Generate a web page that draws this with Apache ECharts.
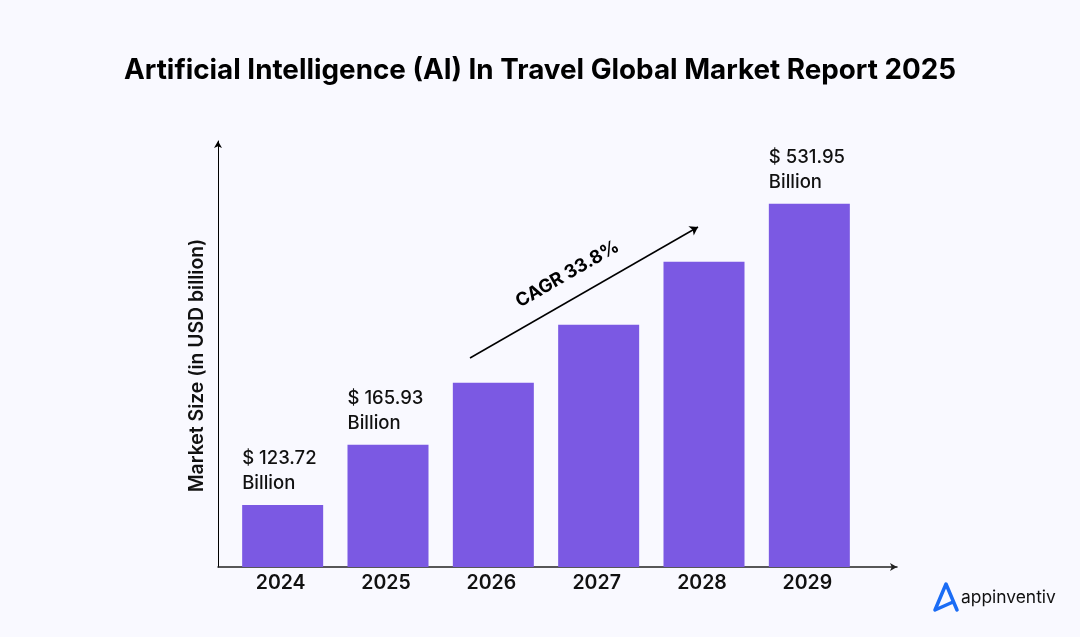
<!DOCTYPE html>
<html>
<head>
<meta charset="utf-8">
<style>
html,body{margin:0;padding:0;background:#f9f9ff;}
#chart{width:1080px;height:637px;}
</style>
<script src="https://cdn.jsdelivr.net/npm/echarts@6/dist/echarts.min.js"></script>
</head>
<body>
<div id="chart"></div>
<script>
var years = ['2024', '2025', '2026', '2027', '2028', '2029'];
// bars are not drawn to the printed values, so heights are read off the picture (2029 = 531.95)
var barHeights = [91, 179, 270, 355, 447, 531.95];
var barLabels = ['$ 123.72\nBillion', '$ 165.93\nBillion', '', '', '', '$ 531.95\nBillion'];

var FONT = 'Inter';
var chart = echarts.init(document.getElementById('chart'));

chart.setOption({
	backgroundColor: '#f9f9ff',
	animation: false,
	title: {
		text: 'Artificial Intelligence (AI) In Travel Global Market Report 2025',
		left: 'center',
		top: 52,
		textStyle: {fontFamily: FONT, fontSize: 27.8, fontWeight: 700, color: '#000'}
	},
	grid: [
		{left: 230, width: 632, top: 141, height: 426},
		{left: 218, width: 679, top: 141, height: 426}
	],
	xAxis: [
		{
			type: 'category',
			gridIndex: 0,
			data: years,
			axisLine: {show: false},
			axisTick: {show: false},
			axisLabel: {fontFamily: FONT, fontSize: 19.5, fontWeight: 600, color: '#111', margin: 6, padding: [0, 4, 0, 0]}
		},
		{
			type: 'value',
			gridIndex: 1,
			min: 0,
			max: 1,
			axisLine: {show: true, symbol: ['none', 'arrow'], symbolSize: [6, 7], lineStyle: {color: '#222', width: 1.5}},
			axisTick: {show: false},
			axisLabel: {show: false},
			splitLine: {show: false}
		}
	],
	yAxis: [
		{
			type: 'value',
			gridIndex: 0,
			min: 0,
			max: 624,
			axisLine: {show: false},
			axisTick: {show: false},
			axisLabel: {show: false},
			splitLine: {show: false}
		},
		{
			type: 'value',
			gridIndex: 1,
			min: 0,
			max: 1,
			axisLine: {show: true, symbol: ['none', 'arrow'], symbolSize: [6, 7], lineStyle: {color: '#000', width: 1}},
			axisTick: {show: false},
			axisLabel: {show: false},
			splitLine: {show: false}
		}
	],
	series: [{
		type: 'bar',
		xAxisIndex: 0,
		yAxisIndex: 0,
		barWidth: 81,
		itemStyle: {color: '#7b59e3'},
		data: barHeights,
		label: {
			show: true,
			position: [0, -9],
			align: 'left',
			verticalAlign: 'bottom',
			fontFamily: FONT,
			fontSize: 18.5,
			fontWeight: 500,
			lineHeight: 25,
			color: '#111',
			formatter: function (p) {
				return barLabels[p.dataIndex];
			}
		},
		markLine: {
			silent: true,
			symbol: ['none', 'arrow'],
			symbolSize: 8,
			label: {show: false},
			lineStyle: {color: '#000', width: 1.5, type: 'solid'},
			data: [[{x: 470, y: 358}, {x: 698, y: 227}]]
		}
	}],
	graphic: [
		{
			type: 'text',
			x: 197,
			y: 365.5,
			rotation: Math.PI / 2,
			style: {text: 'Market Size (in USD billion)', fontFamily: FONT, fontSize: 19.4, fontWeight: 600, fill: '#111', align: 'center', verticalAlign: 'middle'}
		},
		{
			type: 'text',
			x: 567.5,
			y: 274,
			rotation: 30 * Math.PI / 180,
			style: {text: 'CAGR 33.8%', fontFamily: FONT, fontSize: 18.4, fontWeight: 700, fill: '#000', align: 'center', verticalAlign: 'middle'}
		},
		{
			type: 'polyline',
			shape: {points: [[953, 602], [935, 610], [946, 584], [957, 610]]},
			style: {stroke: '#1a6cf5', lineWidth: 3.5, lineCap: 'round', lineJoin: 'round', fill: null}
		},
		{
			type: 'text',
			x: 961,
			y: 598,
			style: {text: 'appinventiv', fontFamily: FONT, fontSize: 17.4, fontWeight: 400, fill: '#111', align: 'left', verticalAlign: 'middle'}
		}
	]
});
</script>
</body>
</html>
